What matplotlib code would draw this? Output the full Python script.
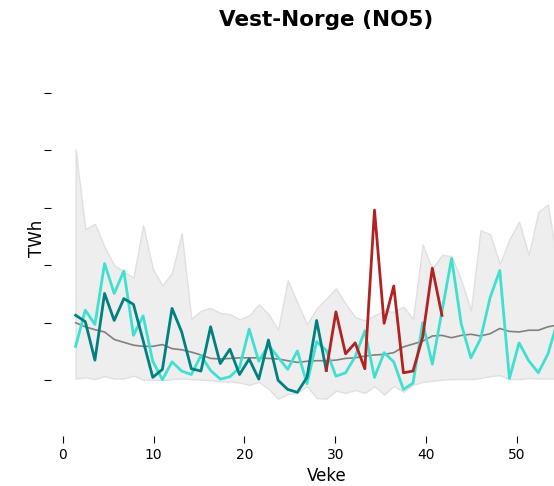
import numpy as np
import matplotlib.pyplot as plt

# weekly values (TWh), week 1 onwards
weeks = np.arange(1, 52)

band_max = [4.02, 2.63, 2.72, 2.32, 2.00, 1.89, 1.79, 2.70, 1.94, 1.65,
            1.87, 2.56, 1.07, 1.21, 1.26, 1.17, 1.15, 1.06, 1.13, 1.32,
            1.15, 0.88, 1.74, 1.35, 0.97, 1.25, 1.42, 1.60, 1.33, 1.10,
            1.04, 1.13, 1.21, 1.19, 1.28, 1.07, 2.36, 1.94, 2.18, 2.16,
            1.74, 1.21, 2.61, 2.54, 2.02, 2.45, 2.76, 2.18, 2.93, 3.06,
            1.97]
band_min = [0.03, 0.05, 0.02, 0.07, 0.03, 0.03, 0.08, 0.01, 0.01, 0.00,
            0.02, 0.03, 0.02, 0.01, 0.00, -0.02, -0.02, -0.04, -0.08, -0.03,
            -0.15, -0.32, -0.24, -0.22, -0.10, -0.31, -0.32, -0.18, -0.22, -0.17,
            -0.22, -0.10, -0.25, -0.10, -0.20, -0.08, -0.03, -0.01, 0.01, 0.02,
            0.02, 0.02, 0.04, 0.07, 0.09, 0.02, 0.02, 0.04, 0.03, 0.03,
            0.03]
band_mean = [1.00, 0.93, 0.88, 0.84, 0.71, 0.66, 0.61, 0.59, 0.59, 0.62,
             0.55, 0.53, 0.49, 0.44, 0.38, 0.37, 0.38, 0.39, 0.39, 0.39,
             0.38, 0.37, 0.34, 0.31, 0.33, 0.34, 0.34, 0.35, 0.38, 0.39,
             0.42, 0.44, 0.45, 0.48, 0.58, 0.63, 0.68, 0.77, 0.78, 0.74,
             0.78, 0.80, 0.77, 0.81, 0.90, 0.85, 0.84, 0.87, 0.87, 0.93,
             0.96]

year_a = [0.59, 1.22, 0.97, 2.03, 1.51, 1.90, 0.78, 1.12, 0.33, 0.01,
          0.32, 0.16, 0.10, 0.43, 0.17, 0.02, 0.06, 0.22, 0.89, 0.33,
          0.61, 0.40, 0.19, 0.51, -0.06, 0.67, 0.52, 0.07, 0.13, 0.41,
          0.86, 0.05, 0.48, 0.32, -0.16, -0.05, 1.00, 0.28, 1.20, 2.12,
          0.98, 0.39, 0.72, 1.44, 1.91, 0.03, 0.65, 0.34, 0.13, 0.46,
          1.03]

weeks_b = np.arange(1, 28)
year_b = [1.13, 1.02, 0.35, 1.51, 1.04, 1.42, 1.32, 0.69, 0.05, 0.19,
          1.25, 0.84, 0.20, 0.16, 0.93, 0.29, 0.54, 0.10, 0.37, 0.02,
          0.70, 0.00, -0.16, -0.21, 0.05, 1.04, 0.17]

weeks_c = np.arange(27, 40)
year_c = [0.17, 1.19, 0.46, 0.65, 0.20, 2.96, 0.99, 1.64, 0.13, 0.16,
          0.75, 1.95, 1.13]

tick_labels = [0, 10, 20, 30, 40, 50]

fig = plt.figure(figsize=(5.54, 4.86), dpi=100)
ax = fig.add_axes([0.0913, 0.1029, 0.9953, 0.8148])

ax.fill_between(weeks, band_min, band_max, facecolor="#eeeeee",
                edgecolor="#e0e0e0", linewidth=1)
ax.plot(weeks, band_mean, color="#808080", linewidth=1.2)
ax.plot(weeks, year_a, color="#40e0d0", linewidth=2)
ax.plot(weeks_b, year_b, color="#008080", linewidth=2)
ax.plot(weeks_c, year_c, color="#b22222", linewidth=2)

ax.set_xlim(-1.6, 55.6)
ax.set_ylim(-0.97, 5.92)
ax.set_xticks([-0.345 + 0.9425 * t for t in tick_labels], [str(t) for t in tick_labels])
ax.set_yticks(range(6), [""] * 6)
ax.tick_params(labelsize=10, length=5)
for s in ax.spines.values():
    s.set_visible(False)

ax.set_title("Vest-Norge (NO5)", fontsize=15.5, fontweight="bold", pad=10)
ax.set_xlabel("Veke", fontsize=12)
ax.set_ylabel("TWh", fontsize=12, labelpad=-5)

fig.savefig("out.png", dpi=100)
